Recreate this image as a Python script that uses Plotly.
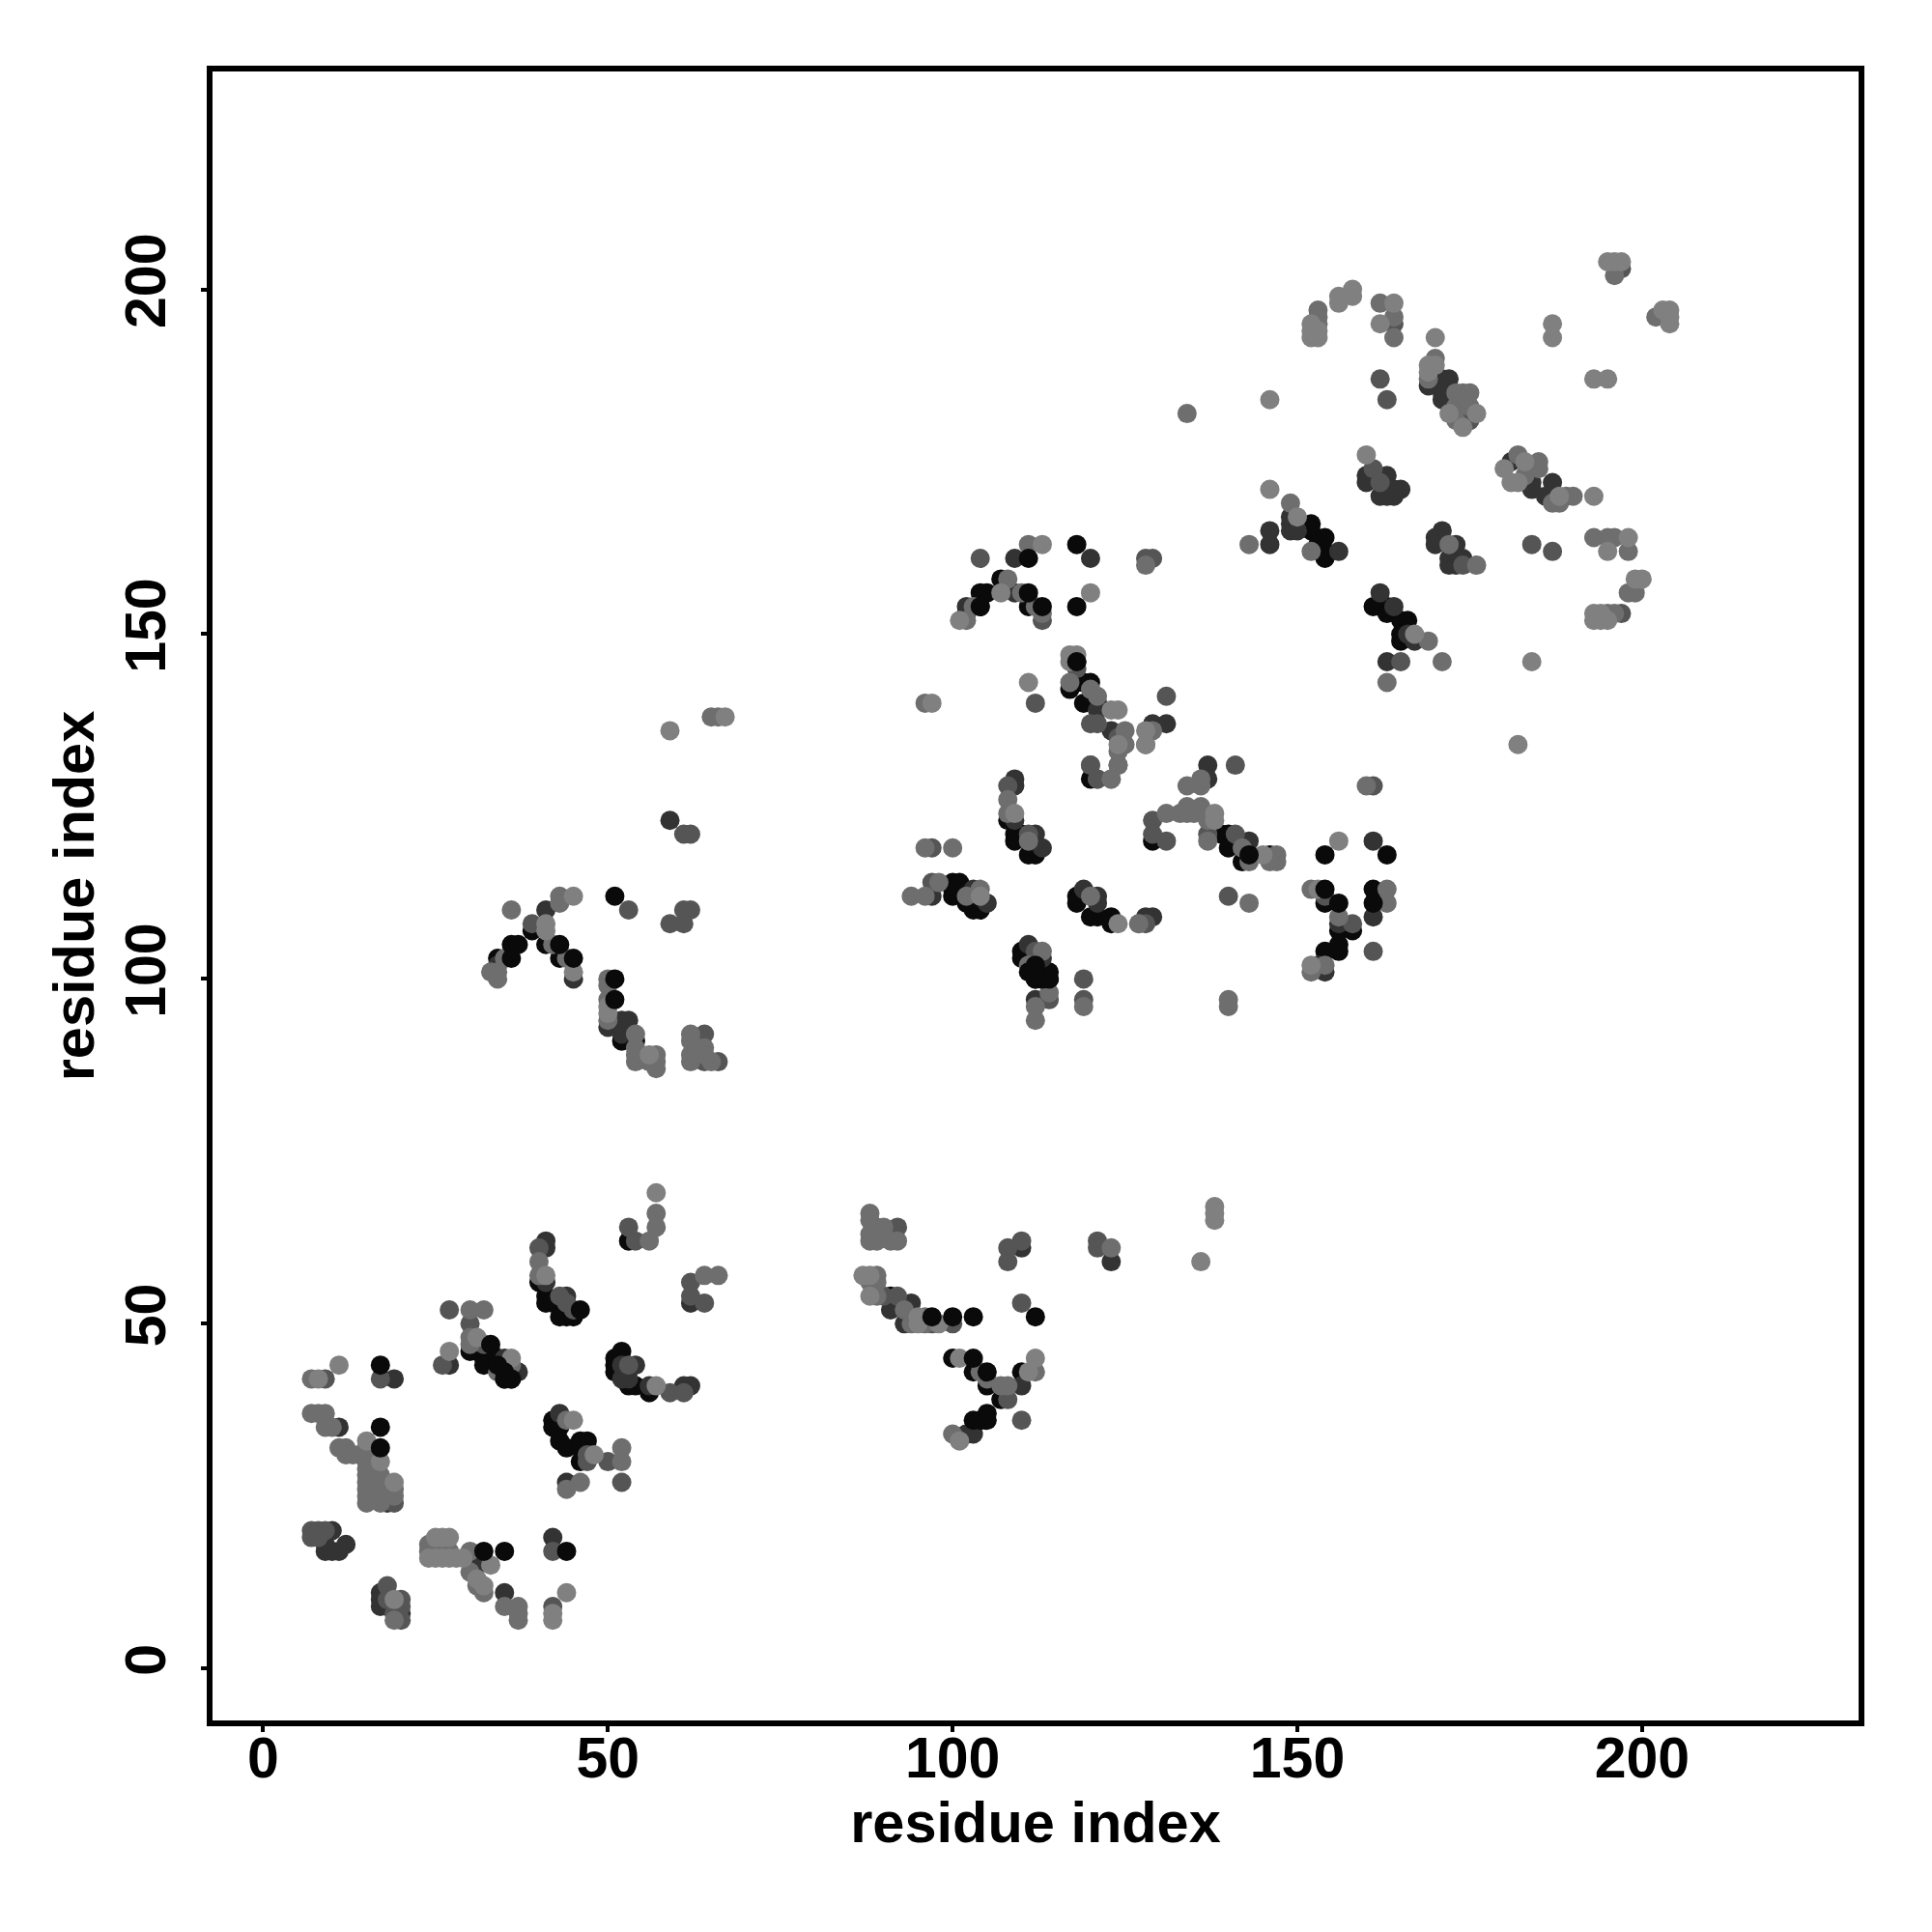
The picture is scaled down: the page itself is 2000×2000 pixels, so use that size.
import plotly.graph_objects as go

tick_vals = [0, 50, 100, 150, 200]
axis_title = "residue index"

black_under = [(40,56),(41,54),(41,53),(42,53),(43,51),(44,51),(45,51),(33,46),(30,46),(31,46),(32,45),(33,45),(32,44),(34,45),(35,42),(36,42),
 (53,62),(42,36),(42,35),(43,35),(43,33),(44,32),(46,32),(46,30),(47,33),(46,33),(51,45),(51,44),(51,43),(53,41),(54,41),(56,40),(52,46),(91,54),
 (107,39),(39,107),(41,105),(43,103),(34,103),(52,91),(54,91),(102,34),(100,45),(103,43),
 (100,114),(101,114),(100,112),(100,113),(102,111),(103,110),(104,110),(108,123),(109,121),(109,120),(110,121),(111,118),(112,118),
 (118,112),(118,111),(120,109),(121,109),(123,109),(123,108),(129,120),(120,129),(140,121),(139,121),(140,119),(142,117),(146,118),
 (110,104),(110,103),(112,102),(114,101),(114,100),(112,100),(113,100),(107,158),(104,156),(105,156),(111,154),(104,154),
 (117,142),(118,143),(119,143),(120,143),(119,140),(121,140),(118,146),(154,111),(156,107),(154,104),(158,107),(161,113),(152,166),(152,165),(154,164),
 (153,163),(154,162),(154,161),(161,154),(162,154),(163,154),(163,153),(165,152),(166,152),(165,150),(165,149),(110,43),(105,41)]
dark = [(41,61),(41,62),(41,56),(44,54),(35,45),(37,43),(27,44),(19,42),(11,35),(14,31),(18,24),(9,17),(10,17),(11,17),(12,18),(9,18),(10,20),
 (31,15),(35,11),(42,19),(17,11),(17,10),(17,9),(18,9),(20,8),(43,37),(44,27),(54,44),(53,42),(56,41),(61,41),(62,41),(62,53),
 (94,53),(91,52),(94,51),(93,50),(110,61),(123,59),(102,34),(103,34),(110,41),(59,123),(41,110),(45,100),(34,102),(50,93),(52,94),(53,94),(52,92),
 (97,112),(103,113),(105,111),(109,129),(109,128),(109,123),(112,121),(113,119),(119,113),(121,112),(121,111),(128,109),(129,109),
 (137,129),(137,131),(143,120),(111,105),(113,103),(112,97),(156,108),(154,101),(153,102),(161,109),(161,120),(109,161),(120,161),(102,154),(102,153),
 (109,156),(121,139),(123,136),(129,137),(131,137),(171,187),(172,187),(171,185),(171,184),(169,186),(163,173),(160,173),(160,172),(165,171),(162,170),(163,170),(164,170),(164,171),
 (181,175),(184,172),(184,171),(187,172),(186,170),(149,167),(149,166),(149,165),(150,165),(156,162),(146,165),(146,163),(52,44),(52,42),
 (171,165),(170,164),(173,163),(170,163),(172,161),(174,161),(172,160),(173,160),(162,156),(164,154),(166,150),(167,149),(163,146)]
mid = [(53,64),(54,62),(62,56),(62,54),(64,53),(40,61),(43,54),(44,53),(45,52),(27,52),(30,50),(32,47),(26,44),(9,42),(17,42),
 (7,20),(8,20),(9,20),(7,19),(8,19),(42,17),(42,9),(18,12),(18,10),(20,10),(20,9),(19,8),(20,7),(50,30),(47,31),(47,30),(52,27),(53,44),(59,40),(61,40),
 (92,64),(90,54),(92,54),(97,50),(100,50),(110,53),(108,61),(110,62),(108,59),(121,62),(121,61),(108,39),(110,36),
 (61,121),(62,121),(61,110),(62,110),(59,108),(61,108),(53,110),(39,108),(64,92),(64,88),(66,88),
 (97,119),(97,114),(108,128),(111,121),(127,108),(128,108),(120,131),(121,129),(129,123),(129,121),(131,120),(141,131),(137,121),(141,121),
 (140,112),(119,100),(119,97),(112,104),(114,97),(154,112),(158,108),(161,104),(161,128),(104,161),(128,161),(129,161),(113,152),(131,141),
 (112,140),(120,137),(121,137),(124,135),(124,131),(120,131),(121,129),(162,187),(163,184),(164,195),(175,181),(161,174),(162,172),
 (174,160),(184,163),(187,162),(197,203),(197,153),(165,146),(118,145),(17,26),(18,25),(19,24)]
grey = [(57,66),(57,64),(56,62),(66,57),(64,57),(40,59),(40,57),(30,52),(32,52),(30,48),(30,47),(34,43),(36,44),(7,42),(7,37),(8,37),(9,37),(9,35),(10,35),
 (11,32),(12,32),(12,31),(13,31),(15,32),(15,31),(15,30),(15,29),(15,28),(15,27),(15,26),(15,25),(15,24),(17,28),(17,27),(17,25),(17,24),(19,26),(19,25),
 (24,18),(24,17),(25,17),(26,17),(27,17),(30,17),(30,14),(31,12),(32,11),(35,9),(37,9),(37,8),(37,7),(19,7),
 (44,36),(52,32),(52,30),(46,27),(44,26),
 (88,66),(88,65),(88,63),(89,64),(90,64),(88,62),(89,62),(91,62),(92,62),(89,57),(88,56),(89,56),(89,54),(93,52),(94,50),(96,51),(96,50),
 (123,61),(104,43),(105,42),(107,41),(108,41),(112,43),(100,34),
 (65,138),(66,138),(36,110),(43,112),(43,111),(42,105),(44,103),(35,103),(33,101),(34,100),(34,101),(50,100),(50,99),(50,97),(50,94),(54,92),(54,90),(54,89),(54,88),
 (57,89),(56,88),(57,88),(57,87),(62,92),(62,91),(62,89),(64,90),(64,89),(62,88),(65,88),
 (96,119),(100,119),(94,112),(96,112),(98,114),(104,113),(102,112),(108,126),(108,124),(111,120),(120,112),(127,108),(124,131),(123,129),(131,124),
 (133,124),(134,125),(134,124),(135,124),(136,125),(137,123),(134,128),(136,128),(136,129),(137,120),(142,119),(143,117),(147,118),(147,117),(146,117),(143,111),
 (119,96),(113,104),(111,102),(114,98),(112,96),(112,94),(140,97),(140,96),(152,113),(154,102),(156,109),(163,113),(163,111),(152,101),(160,128),
 (111,163),(108,158),(110,156),(103,154),(112,154),(102,152),(113,153),(128,160),(117,143),(120,142),(121,141),(125,136),(125,134),(124,133),(123,129),(96,140),(129,136),(128,134),
 (153,197),(153,196),(153,195),(162,198),(164,196),(164,193),(196,202),(202,196),(170,190),(169,187),(173,185),(174,185),(175,185),(173,183),(175,183),(173,181),
 (182,176),(185,175),(183,173),(185,174),(187,169),(189,170),(190,170),(188,169),(149,169),(143,163),(152,162),(172,163),(176,160),
 (193,164),(195,164),(196,164),(198,162),(198,156),(199,156),(195,153),(196,153),(169,149),(171,146),(163,143),(134,182)]
light = [(57,69),(11,44),(8,42),(41,57),(31,48),(36,45),(27,46),(15,33),(17,30),(19,27),(25,19),(26,19),(27,19),(24,16),(25,16),(26,16),(27,16),(28,16),(29,16),
 (33,15),(31,13),(32,12),(44,11),(42,8),(42,7),(19,10),(45,36),(48,31),(57,41),(87,57),(88,57),(88,54),(95,51),(95,50),(98,50),(101,45),(111,43),(112,45),(101,33),
 (138,67),(138,66),(138,65),(136,59),(59,136),(67,138),(45,112),(41,108),(41,107),(45,101),(50,96),(50,95),(56,89),
 (104,112),(109,124),(124,108),(128,134),(124,134),(138,124),(138,123),(145,118),(153,113),(152,102),(156,120),
 (113,163),(128,136),(101,152),(107,156),(120,156),(117,147),(118,147),(117,146),(111,143),(123,139),(124,139),(97,140),
 (146,184),(152,195),(152,194),(153,194),(152,193),(153,193),(156,199),(156,198),(158,200),(158,199),(162,195),(164,198),(170,193),(187,195),(187,193),(193,187),(195,187),
 (195,204),(196,204),(197,204),(203,197),(204,197),(204,196),(204,195),(169,189),(170,189),(169,188),(172,182),(176,182),(174,180),(160,176),
 (180,174),(183,175),(181,172),(182,172),(188,170),(193,170),(146,171),(150,167),(198,164),(195,162),(200,158),(199,158),
 (193,153),(194,153),(193,152),(194,152),(195,152),(167,150),(184,146),(182,134)]
black_top = [(46,52),(33,47),(17,44),(17,35),(17,32),(32,17),(35,17),(44,17),(51,112),(97,51),(100,51),(103,51),(112,51),(103,45),(105,43),(103,36),(104,36),(105,37),(105,36),
 (51,100),(51,97),(36,105),(37,105),(36,103),(43,105),(45,103),(111,161),(118,163),(111,156),(113,154),(118,154),(104,154),(118,146),
 (143,118),(154,118),(163,118),(156,111),(154,113),(156,105),(156,104),(161,111),(112,100),(113,100),(114,100),
 (34,44),(35,43),(35,42),(36,42),(112,102),(112,101),(111,101)]

layers = [(black_under, "#0a0a0a"), (dark, "#333333"), (mid, "#555555"), (grey, "#6e6e6e"), (light, "#808080"), (black_top, "#0a0a0a")]

fig = go.Figure()
for pts, col in layers:
    fig.add_trace(go.Scatter(x=[p[0] for p in pts], y=[p[1] for p in pts], mode="markers",
                             marker=dict(size=20, color=col, line=dict(width=0)), showlegend=False))

tick_font = dict(family="Liberation Sans", size=59, color="black", weight="bold")
title_font = dict(family="Liberation Sans", size=59.5, color="black", weight="bold")
axis = dict(tickmode="array", tickvals=tick_vals, showgrid=False, zeroline=False, showline=True, mirror=True,
            linecolor="black", linewidth=6, ticks="outside", ticklen=6, tickwidth=4, tickcolor="black", tickfont=tick_font)
fig.update_layout(
    width=2000, height=2000, autosize=False, paper_bgcolor="white", plot_bgcolor="white",
    margin=dict(l=211.5, r=84, t=66.4, b=227.3),
    xaxis=dict(range=[-7.35, 231.4], ticklabelstandoff=-24, title=dict(text=axis_title, font=title_font, standoff=13), **axis),
    yaxis=dict(range=[-7.53, 231.6], ticklabelstandoff=13, title=dict(text=axis_title, font=title_font, standoff=4), tickangle=-90, **axis),
)
fig.write_html("out.html")
